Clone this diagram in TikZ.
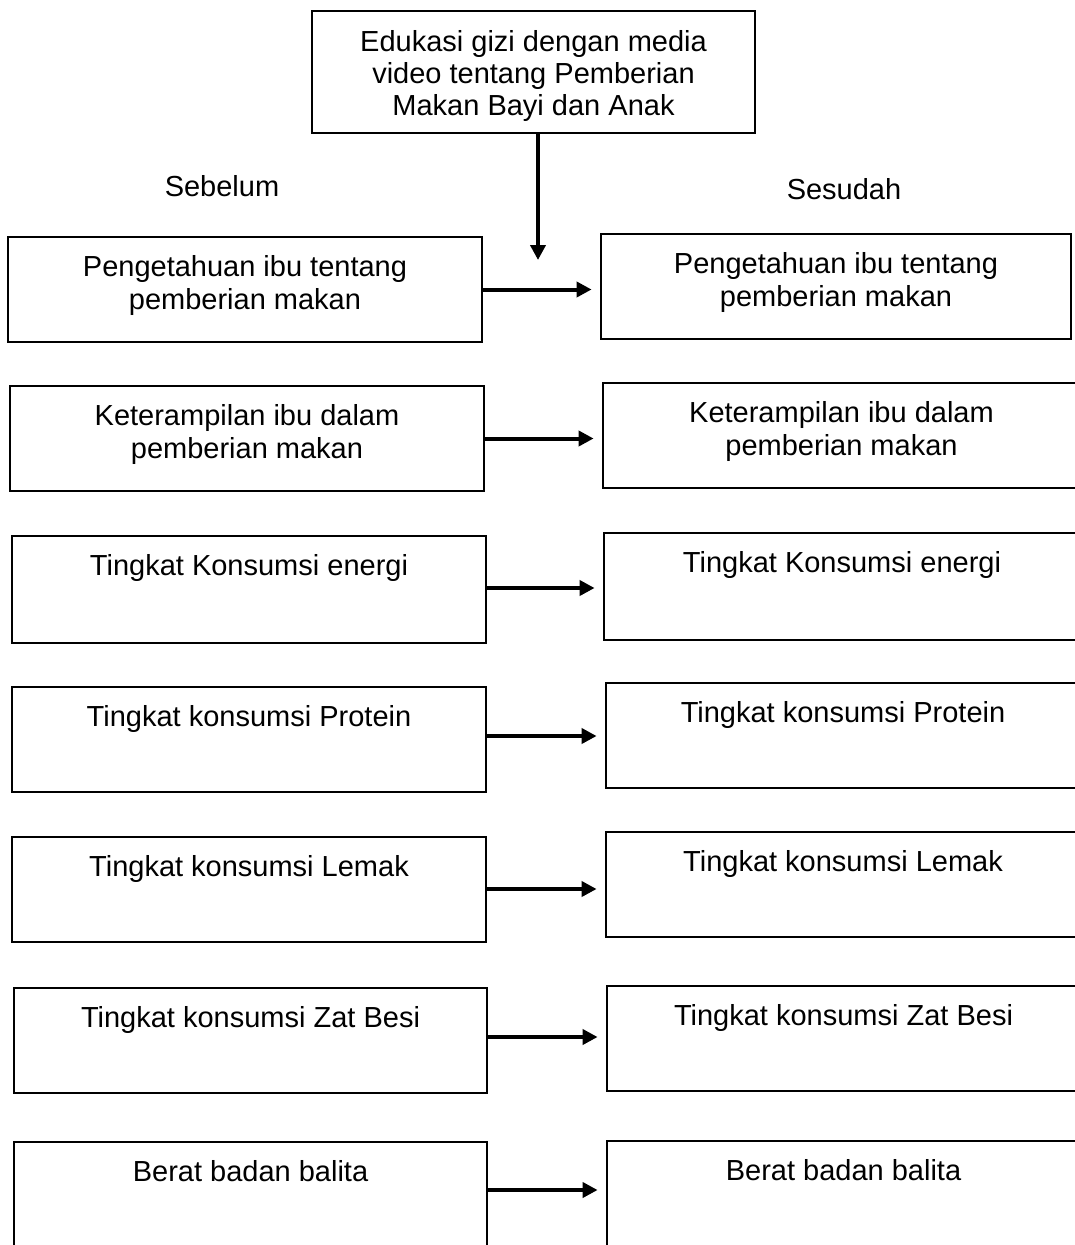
\documentclass[tikz,border=0pt]{standalone}
\usepackage{fontspec}
\setmainfont{Liberation Sans}
\usetikzlibrary{arrows.meta}
\newcommand{\tstrut}{\rule{0pt}{23pt}}
\begin{document}
\begin{tikzpicture}[x=1pt,y=-1pt,
  box/.style={draw, line width=2.8pt, inner sep=0pt, minimum width=474pt, minimum height=105pt},
  lbl/.style={anchor=north, inner sep=0pt, align=center, font=\fontsize{29}{33}\selectfont},
  hdr/.style={inner sep=0pt, font=\fontsize{29}{33}\selectfont},
  arr/.style={line width=4pt, -{Triangle[length=15pt,width=15pt]}}]
\useasboundingbox (0,0) rectangle (1075,1245);

% top box
\node[box, minimum width=443pt, minimum height=122pt] (top) at (533.5,72) {};
\node[lbl, font=\fontsize{29}{32}\selectfont] (ttop) at ([yshift=-19pt]top.north) {\tstrut Edukasi gizi dengan media\\video tentang Pemberian\\Makan Bayi dan Anak};

\node[hdr] (seb) at (222,186) {Sebelum};
\node[hdr] (ses) at (844,189) {Sesudah};

% left boxes
\node[box] (L1) at (245,289.5) {};
\node[box] (L2) at (247,438.5) {};
\node[box, minimum height=107pt] (L3) at (249,589.5) {};
\node[box] (L4) at (249,739.5) {};
\node[box] (L5) at (249,889.5) {};
\node[box, minimum width=473pt] (L6) at (250.5,1040.5) {};
\node[box, minimum width=473pt, minimum height=118pt] (L7) at (250.5,1201) {};

% right boxes
\node[box, minimum width=470pt] (R1) at (836,286.5) {};
\node[box, minimum width=477pt] (R2) at (841.5,435.5) {};
\node[box, minimum width=476pt, minimum height=107pt] (R3) at (842,586.5) {};
\node[box, minimum width=474pt] (R4) at (843,735.5) {};
\node[box, minimum width=474pt] (R5) at (843,884.5) {};
\node[box, minimum width=473pt] (R6) at (843.5,1038.5) {};
\node[box, minimum width=473pt, minimum height=119pt] (R7) at (843.5,1200.5) {};

% texts
\node[lbl] (tL1) at ([yshift=-18pt]L1.north) {\tstrut Pengetahuan ibu tentang\\pemberian makan};
\node[lbl] (tR1) at ([yshift=-18pt]R1.north) {\tstrut Pengetahuan ibu tentang\\pemberian makan};
\node[lbl] (tL2) at ([yshift=-18pt]L2.north) {\tstrut Keterampilan ibu dalam\\pemberian makan};
\node[lbl] (tR2) at ([yshift=-18pt]R2.north) {\tstrut Keterampilan ibu dalam\\pemberian makan};
\node[lbl] (tL3) at ([yshift=-18pt]L3.north) {\tstrut Tingkat Konsumsi energi};
\node[lbl] (tR3) at ([yshift=-18pt]R3.north) {\tstrut Tingkat Konsumsi energi};
\node[lbl] (tL4) at ([yshift=-18pt]L4.north) {\tstrut Tingkat konsumsi Protein};
\node[lbl] (tR4) at ([yshift=-18pt]R4.north) {\tstrut Tingkat konsumsi Protein};
\node[lbl] (tL5) at ([yshift=-18pt]L5.north) {\tstrut Tingkat konsumsi Lemak};
\node[lbl] (tR5) at ([yshift=-18pt]R5.north) {\tstrut Tingkat konsumsi Lemak};
\node[lbl] (tL6) at ([yshift=-18pt]L6.north) {\tstrut Tingkat konsumsi Zat Besi};
\node[lbl] (tR6) at ([yshift=-18pt]R6.north) {\tstrut Tingkat konsumsi Zat Besi};
\node[lbl] (tL7) at ([yshift=-18pt]L7.north) {\tstrut Berat badan balita};
\node[lbl] (tR7) at ([yshift=-18pt]R7.north) {\tstrut Berat badan balita};

% arrows
\coordinate (vt) at (538,260);
\draw[arr] (top.south -| vt) -- (vt);
\foreach \i/\s in {1/0,2/0,3/1.5,4/3.5,5/0.5,6/3.5,7/11}{
  \draw[arr, shorten >=8pt] ([yshift=\s pt]L\i.east) -- ([yshift=\s pt]L\i.east -| R\i.west);
}
\end{tikzpicture}
\end{document}
